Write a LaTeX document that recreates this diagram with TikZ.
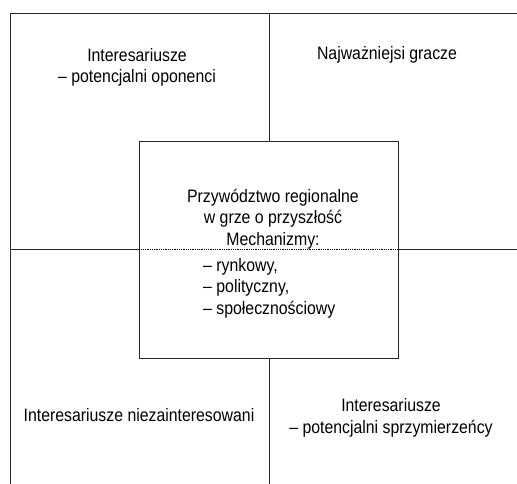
\documentclass[tikz,border=0pt]{standalone}
\usepackage{fontspec}
\setmainfont[FakeStretch=0.88]{Liberation Sans}
\usetikzlibrary{positioning}
\tikzset{%
frame/.style={draw=black!85,line width=0.8pt},
corebox/.style={draw=black!85,line width=0.8pt,rectangle,inner sep=0,outer sep=0,minimum width=259.4pt,minimum height=216.3pt},
split/.style={line width=1.3pt,dash pattern=on 0.9pt off 0.9pt},
quadtext/.style={align=center,inner sep=0,font=\fontsize{18}{21.3}\selectfont},
listtext/.style={align=left,inner sep=0,font=\fontsize{18}{21.3}\selectfont}
}
\begin{document}
\begin{tikzpicture}[x=1pt,y=-1pt]
    \useasboundingbox (0,0) rectangle (517,484);

    \coordinate (tl) at (10,13);
    \coordinate (tr) at (517,13);
    \coordinate (bl) at (10,484);
    \coordinate (tm) at (269,13);
    \coordinate (bm) at (269,484);
    \coordinate (ml) at (10,249.8);
    \coordinate (mr) at (517,249.8);

    \node[corebox] (core) at (269,249.8) {};

    \node[quadtext,anchor=base] (oppo) at (137,83) {Interesariusze\\ -- potencjalni oponenci};
    \node[quadtext,anchor=base] (key) at (387,60) {Najważniejsi gracze};
    \node[quadtext,anchor=base] (idle) at (139,421.7) {Interesariusze niezainteresowani};
    \node[quadtext,anchor=base] (ally) at (391,433) {Interesariusze\\ -- potencjalni sprzymierzeńcy};

    \node[quadtext,anchor=base] (lead) at (273,245) {Przywództwo regionalne\\ w grze o przyszłość\\ Mechanizmy:};
    \node[listtext,anchor=base west] (mech) at (203,314) {-- rynkowy,\\ -- polityczny,\\ -- społecznościowy};

    \draw[frame] (tl) -- (tr)
                 (tl) -- (bl)
                 (tm) -- (core.north)
                 (core.south) -- (bm)
                 (ml) -- (core.west)
                 (core.east) -- (mr);
    \draw[split] (core.west) -- (core.east);

\end{tikzpicture}
\end{document}
